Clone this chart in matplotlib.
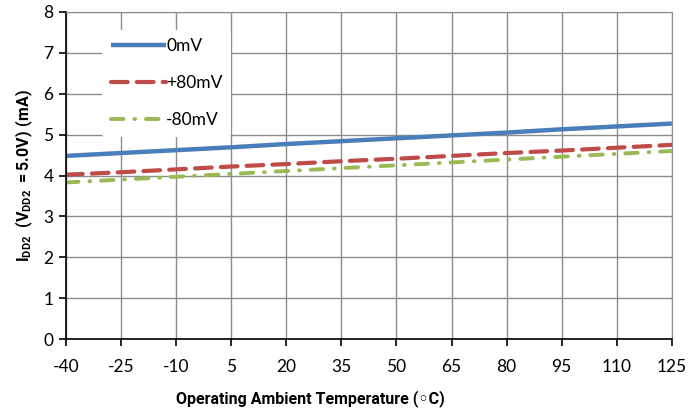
import numpy as np
import matplotlib
matplotlib.use('Agg')
import matplotlib.pyplot as plt

# Datos
temperatura = [-40, -25, -10, 5, 20, 35, 50, 65, 80, 95, 110, 125]
idd_0mV = [4.48, 4.55, 4.62, 4.69, 4.77, 4.84, 4.91, 4.98, 5.05, 5.13, 5.20, 5.27]
idd_p80mV = [4.02, 4.08, 4.15, 4.22, 4.28, 4.35, 4.41, 4.48, 4.55, 4.61, 4.68, 4.75]
idd_m80mV = [3.83, 3.90, 3.97, 4.04, 4.11, 4.18, 4.25, 4.32, 4.39, 4.46, 4.53, 4.60]
xticks = [-40, -25, -10, 5, 20, 35, 50, 65, 80, 95, 110, 125]

plt.rcParams['font.family'] = ['Lato', 'DejaVu Sans']
plt.rcParams['axes.unicode_minus'] = False
plt.rcParams['mathtext.fontset'] = 'custom'
plt.rcParams['mathtext.bf'] = 'Roboto:bold'
plt.rcParams['mathtext.rm'] = 'Roboto:bold'

fig = plt.figure(figsize=(6.9, 4.12), dpi=100)
ax = fig.add_axes([0.0957, 0.177, 0.878, 0.794])

ax.plot(temperatura, idd_0mV, color='#4a7ebb', lw=3.2, solid_capstyle='butt', label='0mV')
ax.plot(temperatura, idd_p80mV, color='#be4b48', lw=3.0, dashes=(4, 2.2),
        dash_capstyle='round', label='+80mV')
ax.plot(temperatura, idd_m80mV, color='#98b954', lw=2.8, dashes=(3.2, 2.8, 0.2, 2.8),
        dash_capstyle='round', label='-80mV')

ax.set_xlim(-40, 125)
ax.set_ylim(0, 8)
ax.set_xticks(xticks)
ax.set_yticks(range(0, 9))
ax.grid(True, color='#8c8c8c', lw=1.0)
ax.set_axisbelow(True)
for s in ['top', 'right']:
    ax.spines[s].set_color('#8c8c8c')
for s in ['left', 'bottom']:
    ax.spines[s].set_color('black')
    ax.spines[s].set_linewidth(1.2)
ax.tick_params(axis='both', direction='out', length=5, width=1.2, labelsize=12.5, pad=9)
ax.tick_params(axis='y', pad=4)

ax.set_xlabel('Operating Ambient Temperature (◦C)', fontsize=11.5, fontweight='bold',
              family=['Roboto', 'DejaVu Sans'], labelpad=10)
ax.xaxis.set_label_coords(0.404, -0.155)
ax.set_ylabel(r'$\mathbf{I_{DD2}}$  $\mathbf{(V_{DD2}}$ $\mathbf{=5.0V)\ (mA)}$', fontsize=11.5, labelpad=6)

leg = ax.legend(loc='upper left', bbox_to_anchor=(0.045, 0.972), frameon=True, fontsize=12.5,
                handlelength=3.2, handletextpad=0.0, labelspacing=1.2, borderpad=0.5)
leg.get_frame().set_edgecolor('none')
leg.get_frame().set_facecolor('white')
leg.get_frame().set_alpha(1.0)

fig.savefig('out.png', dpi=100)
